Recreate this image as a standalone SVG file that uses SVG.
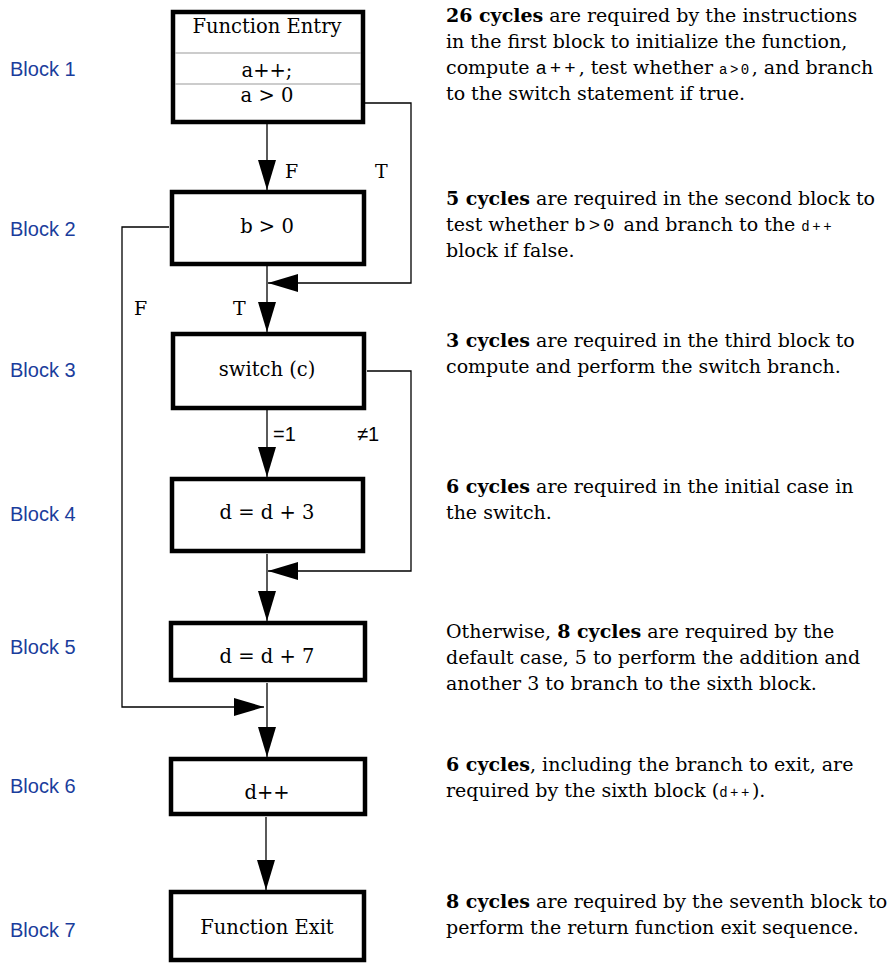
<svg xmlns="http://www.w3.org/2000/svg" width="891" height="964" viewBox="0 0 891 964">
<style>
.box{fill:#fff;stroke:#000;stroke-width:4.5}
.div{stroke:#999;stroke-width:1.2}
.bt{font-family:"DejaVu Serif","Liberation Serif",serif;font-size:19.5px;fill:#000;text-anchor:middle}
.lbl{font-family:"DejaVu Serif","Liberation Serif",serif;font-size:19px;fill:#000}
.sl{font-family:"Liberation Sans",Arial,sans-serif;font-size:20px;fill:#000}
.blk{font-family:"Liberation Sans",Arial,sans-serif;font-size:20px;fill:#1a3d9c}
.desc{font-family:"DejaVu Serif","Liberation Serif",serif;font-size:19px;fill:#000}
.b{font-weight:bold}
.m{font-family:"Liberation Mono","DejaVu Sans Mono",monospace;font-size:19px;letter-spacing:3px}
.ms{font-family:"Liberation Mono","DejaVu Sans Mono",monospace;font-size:14px;letter-spacing:2.5px}
.c{fill:none;stroke:#000;stroke-width:1.3}
</style>
<defs>
<marker id="ah" markerUnits="userSpaceOnUse" markerWidth="30" markerHeight="18" refX="30" refY="9" orient="auto">
<path d="M0,0 L30,9 L0,18 z" fill="#000"/>
</marker>
</defs>

<g id="connectors">
<path class="c" d="M267,124 V190" marker-end="url(#ah)"/>
<path class="c" d="M365,103 H411 V283 H268" marker-end="url(#ah)"/>
<path class="c" d="M267,265 V332" marker-end="url(#ah)"/>
<path class="c" d="M367,371 H411 V571 H268" marker-end="url(#ah)"/>
<path class="c" d="M267,410 V477" marker-end="url(#ah)"/>
<path class="c" d="M267,554 V621" marker-end="url(#ah)"/>
<path class="c" d="M169,227 H122 V707 H264" marker-end="url(#ah)"/>
<path class="c" d="M267,683 V757" marker-end="url(#ah)"/>
<path class="c" d="M266,817 V890" marker-end="url(#ah)"/>
<text class="lbl" x="285" y="178">F</text>
<text class="lbl" x="375" y="178">T</text>
<text class="lbl" x="134" y="315">F</text>
<text class="lbl" x="233" y="315">T</text>
<text class="sl" x="273" y="441">=1</text>
<text class="sl" x="357" y="441">≠1</text>
</g>

<g id="block1">
<rect class="box" x="173" y="12" width="190" height="110"/>
<line class="div" x1="175" y1="53" x2="361" y2="53"/>
<line class="div" x1="175" y1="84" x2="361" y2="84"/>
<text class="bt" x="267" y="33">Function Entry</text>
<text class="bt" x="267" y="77">a++;</text>
<text class="bt" x="267" y="102">a &gt; 0</text>
</g>
<g id="block2">
<rect class="box" x="172" y="192" width="192" height="72"/>
<text class="bt" x="267" y="233">b &gt; 0</text>
</g>
<g id="block3">
<rect class="box" x="173" y="334" width="191" height="74"/>
<text class="bt" x="267" y="376">switch (c)</text>
</g>
<g id="block4">
<rect class="box" x="172" y="479" width="191" height="72"/>
<text class="bt" x="267" y="519">d = d + 3</text>
</g>
<g id="block5">
<rect class="box" x="171" y="623" width="194" height="57"/>
<text class="bt" x="267" y="663">d = d + 7</text>
</g>
<g id="block6">
<rect class="box" x="171" y="759" width="194" height="55"/>
<text class="bt" x="267" y="799">d++</text>
</g>
<g id="block7">
<rect class="box" x="171" y="892" width="193" height="68"/>
<text class="bt" x="267" y="934">Function Exit</text>
</g>

<g id="block-labels">
<text class="blk" x="10" y="76">Block 1</text>
<text class="blk" x="10" y="236">Block 2</text>
<text class="blk" x="10" y="377">Block 3</text>
<text class="blk" x="10" y="521">Block 4</text>
<text class="blk" x="10" y="654">Block 5</text>
<text class="blk" x="10" y="793">Block 6</text>
<text class="blk" x="10" y="937">Block 7</text>
</g>

<g id="descriptions">
<text class="desc" x="446" y="22"><tspan class="b">26 cycles</tspan> are required by the instructions</text>
<text class="desc" x="446" y="48">in the first block to initialize the function,</text>
<text class="desc" x="446" y="74">compute <tspan class="m">a++</tspan>, test whether <tspan class="ms">a&gt;0</tspan>, and branch</text>
<text class="desc" x="446" y="100">to the switch statement if true.</text>

<text class="desc" x="446" y="205"><tspan class="b">5 cycles</tspan> are required in the second block to</text>
<text class="desc" x="446" y="231">test whether <tspan class="m">b&gt;0</tspan> and branch to the <tspan class="ms">d++</tspan></text>
<text class="desc" x="446" y="257">block if false.</text>

<text class="desc" x="446" y="347"><tspan class="b">3 cycles</tspan> are required in the third block to</text>
<text class="desc" x="446" y="373">compute and perform the switch branch.</text>

<text class="desc" x="446" y="493"><tspan class="b">6 cycles</tspan> are required in the initial case in</text>
<text class="desc" x="446" y="519">the switch.</text>

<text class="desc" x="446" y="638">Otherwise, <tspan class="b">8 cycles</tspan> are required by the</text>
<text class="desc" x="446" y="664">default case, 5 to perform the addition and</text>
<text class="desc" x="446" y="690">another 3 to branch to the sixth block.</text>

<text class="desc" x="446" y="771"><tspan class="b">6 cycles</tspan>, including the branch to exit, are</text>
<text class="desc" x="446" y="797">required by the sixth block (<tspan class="ms">d++</tspan>).</text>

<text class="desc" x="446" y="908"><tspan class="b">8 cycles</tspan> are required by the seventh block to</text>
<text class="desc" x="446" y="934">perform the return function exit sequence.</text>
</g>
</svg>
